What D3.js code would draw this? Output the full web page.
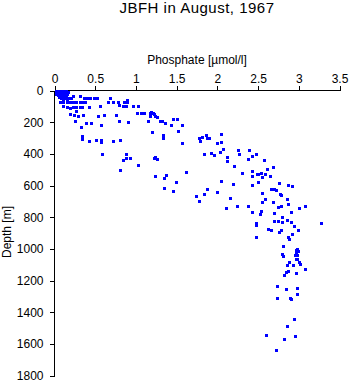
<!DOCTYPE html>
<html><head><meta charset="utf-8">
<script src="https://cdn.jsdelivr.net/npm/d3@7"></script>
<style>
html,body{margin:0;padding:0;background:#fff;}
text{font-family:"Liberation Sans",Arial,sans-serif;fill:#000;}
</style></head>
<body>
<svg id="chart" width="350" height="384"></svg>
<script>
const title = "JBFH in August, 1967";
const xLabel = "Phosphate [\u00b5mol/l]";
const yLabel = "Depth [m]";
const xTicks = [0, 0.5, 1, 1.5, 2, 2.5, 3, 3.5];
const xTickLabels = ["0", "0.5", "1", "1.5", "2", "2.5", "3", "3.5"];
const yTicks = [0, 200, 400, 600, 800, 1000, 1200, 1400, 1600, 1800];
const yTickLabels = ["0", "200", "400", "600", "800", "1000", "1200", "1400", "1600", "1800"];

// phosphate values (µmol/l) and matching depths (m)
const phosphate = [
0.02,0.05,0.08,0.11,0.14,0.03,0.06,0.10,0.13,0.16,0.02,0.05,0.09,0.12,0.15,0.04,0.07,0.10,0.13,0.23,0.31,0.06,0.10,0.14,0.18,0.08,0.12,0.16,0.20,0.36,0.40,0.44,0.48,0.52,0.68,0.11,0.15,0.89,
0.07,0.11,0.15,0.19,0.23,0.27,0.31,0.34,0.38,0.66,0.72,0.78,0.85,0.89,
0.79,0.84,0.88,0.97,1.02,
0.11,0.15,0.19,0.23,0.27,0.31,0.34,0.42,0.56,
0.26,0.19,0.24,0.29,0.35,0.54,0.61,0.76,
0.25,0.39,0.45,0.57,0.79,0.90,0.32,0.34,0.34,0.42,0.51,0.57,0.57,0.72,0.81,0.58,0.88,0.88,0.84,0.93,1.03,0.81,1.24,1.26,1.24,
1.01,1.06,1.10,1.17,1.21,1.17,1.24,1.30,1.15,1.20,
1.18,1.22,1.26,1.32,1.36,1.45,1.51,1.43,1.56,1.52,1.33,1.33,1.57,1.77,1.79,1.81,1.86,1.87,1.90,2.04,2.00,2.05,2.07,2.03,1.84,1.92,1.96,2.12,2.12,2.25,2.26,2.39,2.48,2.42,2.38,2.20,1.22,1.26,1.61,1.37,1.35,1.24,1.49,1.34,1.46,2.04,2.19,2.30,2.42,2.43,2.49,2.50,2.43,1.87,1.84,1.74,1.78,2.00,2.15,2.10,2.24,2.38,
2.50,2.53,2.55,2.57,2.58,2.61,2.65,2.68,2.55,2.55,2.59,2.53,2.52,2.42,2.47,2.47,2.48,2.62,2.66,2.68,2.66,2.70,2.72,2.76,2.77,2.78,2.74,2.78,2.69,2.69,2.75,2.79,2.80,2.85,2.90,2.90,2.94,2.78,2.76,2.87,2.88,2.92,2.99,2.81,2.98,2.85,2.87,2.92,2.87,3.00,3.08,3.27,
2.80,2.81,2.97,2.99,2.97,2.95,2.98,2.96,2.98,3.00,3.01,2.88,2.86,2.93,3.08,2.87,2.84,2.82,2.96,2.73,2.84,2.98,2.98,2.73,2.89,2.90,2.94,2.86,2.95,2.60,2.82,2.72
];
const depth = [
0,0,0,0,0,10,10,10,10,10,20,20,20,20,20,30,30,30,30,32,32,40,40,40,45,50,50,50,50,49,49,49,49,49,49,60,60,61,
74,74,74,74,74,74,74,74,74,74,74,74,74,74,
90,95,100,95,95,
100,105,110,105,105,105,105,106,100,
131,150,155,160,152,163,152,152,
190,205,205,215,194,200,230,290,305,320,314,310,325,321,314,398,403,425,440,425,468,504,420,432,537,
140,145,145,145,145,163,163,194,194,263,
138,150,168,195,205,183,183,215,215,255,283,303,329,303,320,293,278,303,297,272,329,323,369,386,400,396,405,422,443,377,400,373,398,413,432,479,424,434,514,531,550,541,575,618,632,571,590,521,506,541,525,580,594,620,654,666,700,638,681,740,731,727,
529,521,546,440,525,495,541,483,650,704,683,763,782,769,837,851,925,872,883,704,624,620,630,582,651,657,735,729,773,824,824,828,797,815,767,828,853,879,891,925,938,904,883,980,1003,683,594,605,719,740,731,835,
1030,1045,1010,1012,1022,1037,1041,1066,1062,1083,1094,1083,1104,1100,1125,1142,1147,1163,1150,1233,1252,1245,1283,1311,1311,1315,1446,1490,1553,1542,1572,1642
];

const svg = d3.select("#chart");
const x = d3.scaleLinear().domain([0, 3.5]).range([54.5, 339.5]);
const y = d3.scaleLinear().domain([0, 1800]).range([90.5, 375.5]);

// title
svg.append("text").attr("x", 197).attr("y", 13)
  .attr("text-anchor", "middle").style("font-size", "15px").style("letter-spacing", "0.5px")
  .text(title);

// top axis
const xAxis = d3.axisTop(x).tickValues(xTicks).tickSize(5).tickPadding(3)
  .tickFormat((d, i) => xTickLabels[i]);
const gx = svg.append("g").attr("transform", "translate(0,90.5)").call(xAxis);
gx.select(".domain").attr("d", `M${x(0)},0H${x(3.5)}`);
gx.selectAll("text").style("font-size", "12px").style("font-family", "Liberation Sans, Arial, sans-serif");
gx.selectAll("line, path").attr("stroke", "#000").attr("shape-rendering", "crispEdges");

svg.append("text").attr("x", 197).attr("y", 64)
  .attr("text-anchor", "middle").style("font-size", "12px").text(xLabel);

// left axis
const yAxis = d3.axisLeft(y).tickValues(yTicks).tickSize(5).tickPadding(6)
  .tickFormat((d, i) => yTickLabels[i]);
const gy = svg.append("g").attr("transform", "translate(54.5,0)").call(yAxis);
gy.select(".domain").attr("d", `M0,${y(0)}V${y(1800)}`);
gy.selectAll("text").style("font-size", "12px").style("font-family", "Liberation Sans, Arial, sans-serif");
gy.selectAll("line, path").attr("stroke", "#000").attr("shape-rendering", "crispEdges");

svg.append("text").attr("transform", "translate(11,232) rotate(-90)")
  .attr("text-anchor", "middle").style("font-size", "12px").text(yLabel);

// points
const pts = phosphate.map((p, i) => ({p, d: depth[i]}));
svg.append("g").selectAll("rect").data(pts).join("rect")
  .attr("x", d => Math.round(x(d.p)) - 1.5)
  .attr("y", d => Math.round(y(d.d)) - 1.5)
  .attr("width", 3).attr("height", 3)
  .attr("fill", "#0000ff").attr("shape-rendering", "crispEdges");
</script>
</body></html>
